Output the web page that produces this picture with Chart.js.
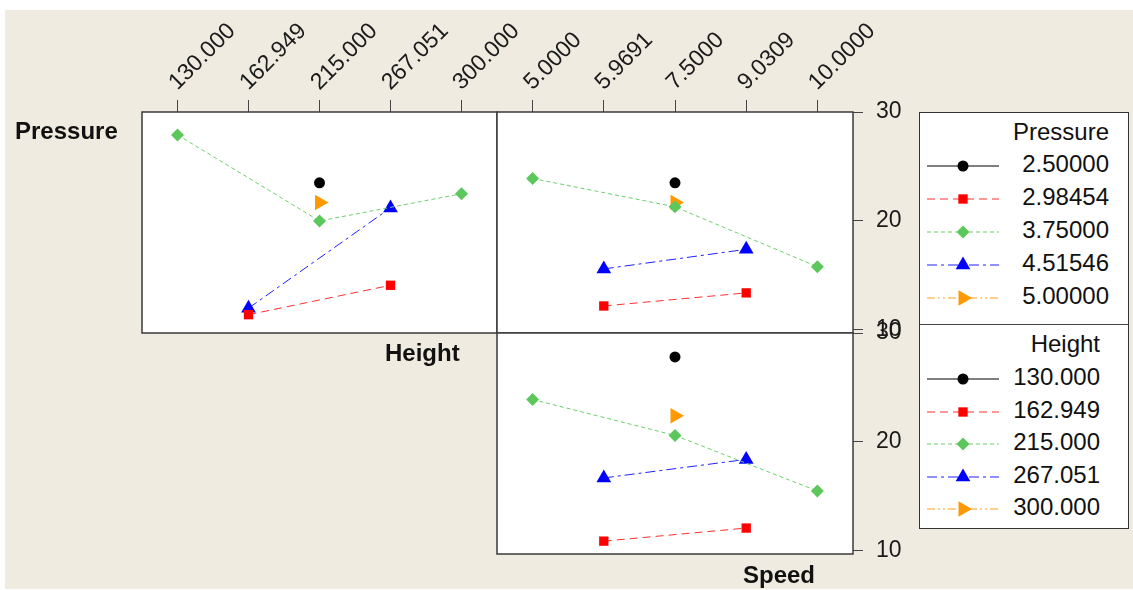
<!DOCTYPE html>
<html>
<head>
<meta charset="utf-8">
<title>Interaction Plot</title>
<script src="https://cdn.jsdelivr.net/npm/chart.js@4.4.1/dist/chart.umd.min.js"></script>
<style>
  html, body { margin: 0; padding: 0; background: #ffffff; }
  #stage { position: relative; width: 1133px; height: 590px; overflow: hidden; }
  #bg { position: absolute; left: 5px; top: 10px; width: 1128px; height: 579px; background: #EFEBE1; }
  #stage canvas { position: absolute; left: 0; top: 0; }
  .facet { position: absolute; font: bold 24px "Liberation Sans", Arial, sans-serif; color: #111; line-height: 28px; white-space: nowrap; }
  #legend { position: absolute; left: 919px; top: 112px; width: 208px; height: 415px; background: #fff; border: 1.5px solid #333; }
  #legend .divider { position: absolute; left: 0; right: 0; height: 0; border-top: 1.5px solid #444; }
  #legend .txt { position: absolute; font: 24px "Liberation Sans", Arial, sans-serif; color: #111; line-height: 28px; white-space: nowrap; text-align: right; }
  #legend svg { position: absolute; overflow: visible; }
</style>
</head>
<body>
<div id="stage">
  <div id="bg"></div>
  <canvas id="cPH" width="1133" height="590"></canvas>
  <canvas id="cPS" width="1133" height="590"></canvas>
  <canvas id="cHS" width="1133" height="590"></canvas>
  <div class="facet" style="left:15px; top:117px;">Pressure</div>
  <div class="facet" style="left:385px; top:339px;">Height</div>
  <div class="facet" style="left:743px; top:561px;">Speed</div>
  <div id="legend"></div>
</div>
<script>
// Factor levels (tick labels along the top, legend entries)
const heightLabels   = ['130.000', '162.949', '215.000', '267.051', '300.000'];
const speedLabels    = ['5.0000', '5.9691', '7.5000', '9.0309', '10.0000'];
const pressureLevels = ['2.50000', '2.98454', '3.75000', '4.51546', '5.00000'];
const yTickValues    = [10, 20, 30];

// Mean response for each Pressure level at each Height level
const pHeight250 = [null, null, 23.5, null, null];
const pHeight298 = [null, 11.4, null, 14.1, null];
const pHeight375 = [27.9, null, 20.0, null, 22.5];
const pHeight452 = [null, 12.0, null, 21.2, null];
const pHeight500 = [null, null, 21.7, null, null];

// Mean response for each Pressure level at each Speed level
const pSpeed250 = [null, null, 23.5, null, null];
const pSpeed298 = [null, 12.2, null, 13.4, null];
const pSpeed375 = [23.9, null, 21.3, null, 15.8];
const pSpeed452 = [null, 15.6, null, 17.4, null];
const pSpeed500 = [null, null, 21.7, null, null];

// Mean response for each Height level at each Speed level
const hSpeed130 = [null, null, 27.8, null, null];
const hSpeed163 = [null, 10.9, null, 12.1, null];
const hSpeed215 = [23.9, null, 20.6, null, 15.5];
const hSpeed267 = [null, 16.7, null, 18.4, null];
const hSpeed300 = [null, null, 22.4, null, null];

const W = 1133, H = 590;
const FONT = '"Liberation Sans", Arial, sans-serif';

// One line/marker style per level, shared by both legends
const levelStyles = [
  { color: '#000000', line: '#000000', dash: [],                 point: 'circle',   radius: 5.5, rotation: 0  },
  { color: '#FF0000', line: '#FF3030', dash: [8, 5],             point: 'rect',     radius: 6.6, rotation: 0  },
  { color: '#5CC85C', line: '#6CD06C', dash: [4, 3],             point: 'rectRot',  radius: 6.5, rotation: 0  },
  { color: '#0000FF', line: '#2020FF', dash: [10, 4, 3, 4],      point: 'triangle', radius: 8.5, rotation: 0  },
  { color: '#FF9900', line: '#FFA020', dash: [8, 3, 2, 3, 2, 3], point: 'triangle', radius: 9,   rotation: 90 }
];

// White plotting region and dark frame around each panel
const panelFrame = {
  id: 'panelFrame',
  beforeDraw(chart) {
    const a = chart.chartArea, ctx = chart.ctx;
    ctx.save();
    ctx.fillStyle = '#ffffff';
    ctx.fillRect(a.left, a.top, a.right - a.left, a.bottom - a.top);
    ctx.restore();
  },
  afterDraw(chart) {
    const a = chart.chartArea, ctx = chart.ctx;
    ctx.save();
    ctx.strokeStyle = '#3a3a3a';
    ctx.lineWidth = 1.5;
    ctx.strokeRect(a.left, a.top, a.right - a.left, a.bottom - a.top);
    ctx.restore();
  }
};

function toPoints(values) {
  return values.map((v, i) => (v === null ? null : { x: i, y: v })).filter(Boolean);
}

function makePanel(canvasId, area, series, xLabels, showTop, showRight) {
  const datasets = series.map((values, k) => {
    const st = levelStyles[k];
    return {
      data: toPoints(values),
      showLine: true,
      fill: false,
      tension: 0,
      borderColor: st.line,
      borderWidth: 1,
      borderDash: st.dash,
      pointStyle: st.point,
      pointRadius: st.radius,
      pointRotation: st.rotation,
      pointBackgroundColor: st.color,
      pointBorderColor: st.color,
      pointBorderWidth: 0,
      clip: false
    };
  });

  const xScale = {
    type: 'linear',
    position: 'top',
    display: showTop,
    min: -0.5,
    max: 4.5,
    afterBuildTicks: s => { s.ticks = xLabels.map((_, i) => ({ value: i })); },
    grid: { drawOnChartArea: false, drawTicks: true, tickLength: 12, color: '#444', lineWidth: 1 },
    border: { display: false },
    ticks: {
      autoSkip: false,
      minRotation: 45,
      maxRotation: 45,
      padding: 4,
      labelOffset: 15,
      color: '#1a1a1a',
      font: { family: FONT, size: 23 },
      callback: v => xLabels[v]
    }
  };
  if (showTop) xScale.afterFit = s => { s.height = area.top; };

  const yScale = {
    type: 'linear',
    position: 'right',
    display: showRight,
    min: 9.72,
    max: 30,
    afterBuildTicks: s => { s.ticks = yTickValues.map(v => ({ value: v })); },
    grid: { drawOnChartArea: false, drawTicks: true, tickLength: 10, color: '#444', lineWidth: 1 },
    border: { display: false },
    ticks: {
      padding: 13,
      color: '#1a1a1a',
      font: { family: FONT, size: 23 },
      callback: v => String(v)
    }
  };
  if (showRight) yScale.afterFit = s => { s.width = W - area.right; };

  return new Chart(document.getElementById(canvasId), {
    type: 'line',
    data: { datasets },
    options: {
      responsive: false,
      animation: false,
      devicePixelRatio: 1,
      events: [],
      layout: {
        padding: {
          left: area.left,
          top: showTop ? 0 : area.top,
          right: showRight ? 0 : W - area.right,
          bottom: H - area.bottom
        }
      },
      plugins: { legend: { display: false }, tooltip: { enabled: false } },
      scales: { x: xScale, y: yScale }
    },
    plugins: [panelFrame]
  });
}

// Pressure x Height (top left), Pressure x Speed (top right), Height x Speed (bottom right)
makePanel('cPH', { left: 142, right: 497, top: 112, bottom: 333 },
  [pHeight250, pHeight298, pHeight375, pHeight452, pHeight500], heightLabels, true, false);
makePanel('cPS', { left: 497, right: 853, top: 112, bottom: 333 },
  [pSpeed250, pSpeed298, pSpeed375, pSpeed452, pSpeed500], speedLabels, true, true);
makePanel('cHS', { left: 497, right: 853, top: 333, bottom: 554 },
  [hSpeed130, hSpeed163, hSpeed215, hSpeed267, hSpeed300], speedLabels, false, true);

// Legend: two stacked sections, one per grouping factor
const legendSections = [
  { title: 'Pressure', labels: pressureLevels, titleY: 19,  firstRowY: 51,  rowStep: 33,   textRight: 19 },
  { title: 'Height',   labels: heightLabels,   titleY: 231, firstRowY: 264, rowStep: 32.6, textRight: 28 }
];
const SVGNS = 'http://www.w3.org/2000/svg';

function markerSvg(st) {
  const svg = document.createElementNS(SVGNS, 'svg');
  svg.setAttribute('width', '72');
  svg.setAttribute('height', '20');
  const line = document.createElementNS(SVGNS, 'line');
  line.setAttribute('x1', '0'); line.setAttribute('x2', '72');
  line.setAttribute('y1', '10'); line.setAttribute('y2', '10');
  line.setAttribute('stroke', st.line);
  line.setAttribute('stroke-width', '1.2');
  if (st.dash.length) line.setAttribute('stroke-dasharray', st.dash.join(' '));
  svg.appendChild(line);
  const cx = 36, cy = 10, r = st.radius;
  let shape;
  if (st.point === 'circle') {
    shape = document.createElementNS(SVGNS, 'circle');
    shape.setAttribute('cx', cx); shape.setAttribute('cy', cy); shape.setAttribute('r', r);
  } else if (st.point === 'rect') {
    const h = r * Math.SQRT1_2;
    shape = document.createElementNS(SVGNS, 'rect');
    shape.setAttribute('x', cx - h); shape.setAttribute('y', cy - h);
    shape.setAttribute('width', 2 * h); shape.setAttribute('height', 2 * h);
  } else {
    const pts = [];
    if (st.point === 'rectRot') {
      pts.push([cx - r, cy], [cx, cy - r], [cx + r, cy], [cx, cy + r]);
    } else {
      const base = st.rotation * Math.PI / 180;
      for (let i = 0; i < 3; i++) {
        const a = base + i * 2 * Math.PI / 3;
        pts.push([cx + Math.sin(a) * r, cy - Math.cos(a) * r]);
      }
    }
    shape = document.createElementNS(SVGNS, 'polygon');
    shape.setAttribute('points', pts.map(p => p.join(',')).join(' '));
  }
  shape.setAttribute('fill', st.color);
  svg.appendChild(shape);
  return svg;
}

const legend = document.getElementById('legend');
legendSections.forEach((sec, si) => {
  if (si > 0) {
    const d = document.createElement('div');
    d.className = 'divider';
    d.style.top = '211px';
    legend.appendChild(d);
  }
  const t = document.createElement('div');
  t.className = 'txt';
  t.textContent = sec.title;
  t.style.right = sec.textRight + 'px';
  t.style.top = (sec.titleY - 14) + 'px';
  legend.appendChild(t);
  sec.labels.forEach((lab, k) => {
    const y = sec.firstRowY + k * sec.rowStep;
    const s = markerSvg(levelStyles[k]);
    s.style.left = '7px';
    s.style.top = (y + 2 - 10) + 'px';
    legend.appendChild(s);
    const e = document.createElement('div');
    e.className = 'txt';
    e.textContent = lab;
    e.style.right = sec.textRight + 'px';
    e.style.top = (y - 14) + 'px';
    legend.appendChild(e);
  });
});
</script>
</body>
</html>
